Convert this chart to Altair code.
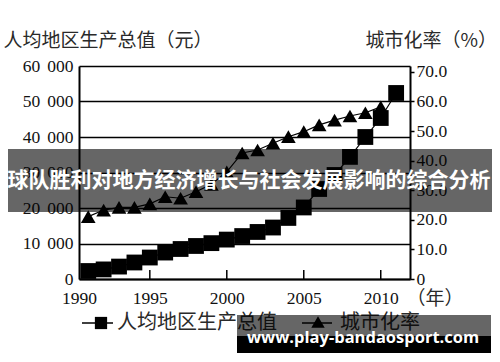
import altair as alt
import pandas as pd

# ---------------- data ----------------
years = list(range(1991, 2012))
gdp_per_capita = [2250, 2700, 3500, 4650, 6050, 7450, 8450, 9300, 10100, 11100,
                  12100, 13250, 14500, 17200, 20150, 25350, 29300, 34400, 40000,
                  45350, 52400]
urban_years = list(range(1991, 2011))
urbanization = [21.1, 23.3, 24.2, 24.2, 25.4, 27.8, 27.3, 29.5, 32.0, 36.2,
                42.6, 43.6, 45.9, 48.1, 49.8, 52.1, 53.7, 55.1, 56.2, 58.2]

x_tick_values = [1990.4, 1995, 2000, 2005, 2010]
inner_tick_years = [1995, 2000, 2005, 2010]
left_ticks = [0, 10000, 20000, 30000, 40000, 50000, 60000]
right_ticks = [0, 10, 20, 30, 40, 50, 60, 70]

left_title = "人均地区生产总值（元）"
right_title = "城市化率（%）"
x_title = "（年）"
legend_labels = ["人均地区生产总值", "城市化率"]
banner_text = "球队胜利对地方经济增长与社会发展影响的综合分析"
watermark_text = "www.play-bandaosport.com"

# ---------------- style ----------------
W, H = 331, 213
SERIF = "Liberation Serif"
CJK = "Noto Sans CJK SC"
TXT = "#2a2a2a"

df_gdp = pd.DataFrame({"year": years, "gdp": gdp_per_capita})
df_urb = pd.DataFrame({"year": urban_years, "urban": urbanization})
df_ticks = pd.DataFrame({"year": inner_tick_years})
one = pd.DataFrame({"k": [0]})

x_axis = alt.Axis(
    values=x_tick_values, labelExpr="'' + round(datum.value)",
    title=x_title, titleX=327, titleY=19, titleAlign="left", titleBaseline="middle",
    titleAngle=0, titleFont=CJK, titleFontSize=19, titleFontWeight="normal",
    titleColor=TXT, grid=False, ticks=False, domainColor="black", domainWidth=2,
    labelFlush=False, labelPadding=10, labelFont=SERIF, labelFontSize=17.5,
    labelColor="#111",
)
X = alt.X("year:Q", scale=alt.Scale(domain=[1990.4, 2011.9], nice=False, zero=False),
          axis=x_axis)

y_left = alt.Y(
    "gdp:Q", scale=alt.Scale(domain=[0, 60000], nice=False),
    axis=alt.Axis(
        orient="left", values=left_ticks,
        labelExpr="datum.value == 0 ? '0' : format(datum.value / 1000, 'd') + '\u2009\u2009000'",
        title=left_title, titleX=-76, titleY=-26, titleAlign="left",
        titleBaseline="middle", titleAngle=0, titleFont=CJK, titleFontSize=19,
        titleFontWeight="normal", titleColor=TXT,
        grid=True, gridColor="black", gridWidth=1.5, gridOpacity=1,
        ticks=False, domainColor="black", domainWidth=2,
        labelPadding=6, labelFont=SERIF, labelFontSize=17.5, labelColor="#111",
    ),
)
y_right = alt.Y(
    "urban:Q", scale=alt.Scale(domain=[0, 72], nice=False),
    axis=alt.Axis(
        orient="right", values=right_ticks,
        labelExpr="datum.value == 0 ? '0' : format(datum.value, '.1f')",
        title=right_title, titleX=-45, titleY=-26, titleAlign="left",
        titleBaseline="middle", titleAngle=0, titleFont=CJK, titleFontSize=19,
        titleFontWeight="normal", titleColor=TXT,
        grid=False, ticks=True, tickSize=4, tickColor="black", tickWidth=1.5,
        domainColor="black", domainWidth=2,
        labelPadding=2, labelFont=SERIF, labelFontSize=17.5, labelColor="#111",
    ),
)

gdp_layer = alt.layer(
    alt.Chart(df_gdp).mark_line(color="black", strokeWidth=1.2).encode(x=X, y=y_left),
    alt.Chart(df_gdp).mark_point(shape="square", filled=True, size=250,
                                 color="black", opacity=1).encode(x=X, y=y_left),
)
urb_layer = alt.layer(
    alt.Chart(df_urb).mark_line(color="black", strokeWidth=1.2).encode(x=X, y=y_right),
    alt.Chart(df_urb).mark_point(shape="triangle-up", filled=True, size=215,
                                 color="black", opacity=1).encode(x=X, y=y_right),
)

inner_ticks = alt.Chart(df_ticks).mark_rule(color="black", strokeWidth=1.5).encode(
    x=X, y=alt.value(H - 9), y2=alt.value(H))

# legend (drawn)
leg_y = 257
leg = [
    alt.Chart(one).mark_rule(color="black", strokeWidth=1.5).encode(
        x=alt.value(3), x2=alt.value(34), y=alt.value(leg_y)),
    alt.Chart(one).mark_point(shape="square", filled=True, size=150, color="black",
                              opacity=1).encode(x=alt.value(22), y=alt.value(leg_y)),
    alt.Chart(one).mark_text(text=legend_labels[0], align="left", baseline="middle",
                             font=CJK, fontSize=20, color=TXT).encode(
        x=alt.value(38), y=alt.value(leg_y)),
    alt.Chart(one).mark_rule(color="black", strokeWidth=1.5).encode(
        x=alt.value(223), x2=alt.value(253), y=alt.value(leg_y)),
    alt.Chart(one).mark_point(shape="triangle-up", filled=True, size=180, color="black",
                              opacity=1).encode(x=alt.value(239), y=alt.value(leg_y - 1)),
    alt.Chart(one).mark_text(text=legend_labels[1], align="left", baseline="middle",
                             font=CJK, fontSize=20, color=TXT).encode(
        x=alt.value(261), y=alt.value(leg_y)),
]

# overlay banner
banner = [
    alt.Chart(one).mark_rect(color="black", opacity=0.6).encode(
        x=alt.value(-71), x2=alt.value(413), y=alt.value(83), y2=alt.value(146)),
    alt.Chart(one).mark_text(text=banner_text, align="center", baseline="middle",
                             font=CJK, fontSize=21, fontWeight="bold",
                             color="white").encode(x=alt.value(170), y=alt.value(115)),
]

# watermark
wm = [
    alt.Chart(one).mark_rect(color="black", opacity=0.6).encode(
        x=alt.value(158), x2=alt.value(412), y=alt.value(249), y2=alt.value(270)),
    alt.Chart(one).mark_rect(color="black", opacity=1).encode(
        x=alt.value(158), x2=alt.value(412), y=alt.value(270), y2=alt.value(287)),
    alt.Chart(one).mark_text(text=watermark_text, align="left", baseline="alphabetic",
                             font="Open Sans", fontSize=16.5, fontWeight="bold",
                             color="white").encode(x=alt.value(168), y=alt.value(277)),
]

chart = alt.layer(
    gdp_layer, urb_layer, inner_ticks, *leg, *banner, *wm
).resolve_scale(y="independent").properties(
    width=W, height=H,
    autosize=alt.AutoSizeParams(type="none"),
    padding={"left": 79, "top": 66, "right": 90, "bottom": 83},
    background="white",
).configure_view(stroke=None)

chart.save("out.html", embed_options={"renderer": "svg", "actions": False})
